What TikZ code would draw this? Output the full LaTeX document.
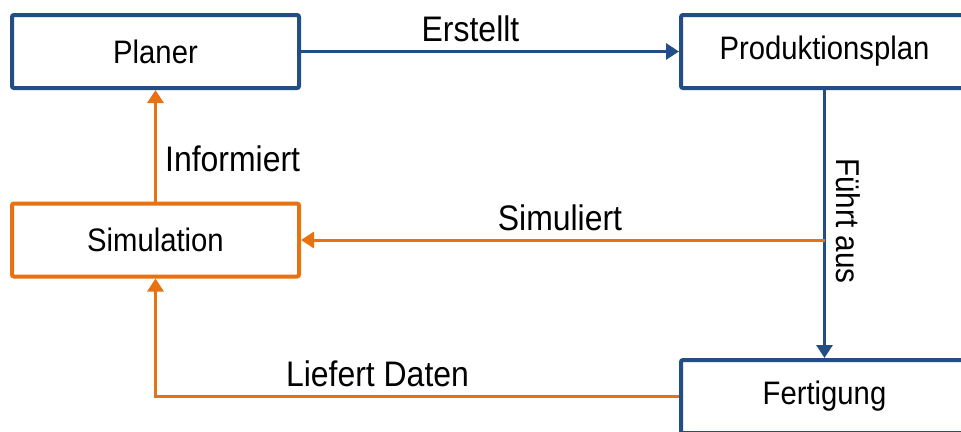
\documentclass[tikz,border=0pt]{standalone}
\usepackage{fontspec}
\setmainfont{Liberation Sans}[FakeStretch=0.9]
\usetikzlibrary{arrows.meta,calc}
\definecolor{dblue}{RGB}{34,78,132}
\definecolor{dorange}{RGB}{232,113,18}
\tikzset{
  box/.style={draw=#1, line width=4pt, rounded corners=2pt, minimum width=287pt, minimum height=73pt, inner sep=0pt, font=\fontsize{32.5}{39}\selectfont, text=black},
  conn/.style={draw=#1, line width=3pt, -{Triangle[length=13pt,width=16pt]}},
  lbl/.style={font=\fontsize{35.5}{42}\selectfont, anchor=base, inner sep=0pt, text=black}
}
\begin{document}
\begin{tikzpicture}[x=1pt,y=-1pt]
\clip (0,0) rectangle (961,431);
\fill[white] (0,0) rectangle (961,431);
\node[box=dblue] (planer) at (155.5,51.5) {Planer};
\node[box=dblue] (prod) at (824.5,51.5) {Produktionsplan};
\node[box=dorange] (sim) at (155.5,240) {Simulation};
\node[box=dblue] (fert) at (824.5,396.5) {Fertigung};
\coordinate (split) at (prod.south |- sim.east);
\draw[conn=dblue] (planer.east) -- (prod.west);
\draw[conn=dblue] (prod.south) -- (fert.north);
\draw[conn=dorange] (sim.north) -- (planer.south);
\draw[conn=dorange] (split) -- (sim.east);
\draw[conn=dorange] (fert.west) -| (sim.south);
\node[lbl] (l1) at (470.5,41.7) {Erstellt};
\node[lbl, anchor=base west] (l2) at (165,171.7) {Informiert};
\node[lbl] (l3) at (560,230) {Simuliert};
\node[lbl] (l4) at (377.5,386) {Liefert Daten};
\node[lbl, rotate=-90, font=\fontsize{33}{40}\selectfont] (l5) at (836.5,221) {Führt aus};
\end{tikzpicture}
\end{document}
